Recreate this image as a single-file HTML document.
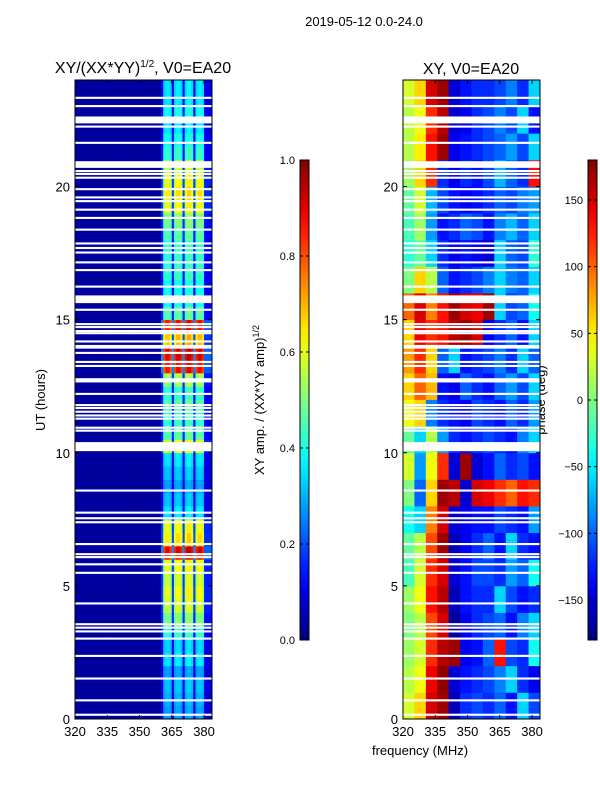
<!DOCTYPE html>
<html><head><meta charset="utf-8"><style>
body{margin:0;background:#fff}
svg{display:block;font-family:"Liberation Sans",sans-serif}
</style></head><body>
<svg id="chart" width="600" height="800" viewBox="0 0 600 800">
<text x="364" y="26" font-size="13" text-anchor="middle">2019-05-12 0.0-24.0</text>
<text x="143" y="73" font-size="16" text-anchor="middle">XY/(XX*YY)<tspan font-size="10" dy="-6">1/2</tspan><tspan dy="6">, V0=EA20</tspan></text>
<text x="471" y="74" font-size="16" text-anchor="middle">XY, V0=EA20</text>
<text x="420" y="755" font-size="13" text-anchor="middle">frequency (MHz)</text>
<text transform="translate(45,400) rotate(-90)" font-size="13" text-anchor="middle">UT (hours)</text>
<text transform="translate(264,400) rotate(-90)" font-size="13" text-anchor="middle">XY amp. / (XX*YY amp)<tspan font-size="9" dy="-5">1/2</tspan></text>
<text transform="translate(545,400) rotate(-90)" font-size="13" text-anchor="middle">phase (deg)</text>
<g id="left"></g>
<g id="right"></g>
<g id="axes"></g>
</svg>
<script>
// ---- data ----
const freqDomain = [320, 383.7];
const timeDomain = [0, 24];
const xTicks = [320, 335, 350, 365, 380];
const yTicks = [0, 5, 10, 15, 20];
const ampTicks = [0.0, 0.2, 0.4, 0.6, 0.8, 1.0];
const phaseTicks = [-150, -100, -50, 0, 50, 100, 150];
const ampFloor = 0.03;
// amplitude column profile, 1 MHz bins from 320
const ampCol = [0,0,0,0,0,0,0,0,0,0, 0,0,0,0,0,0,0,0,0,0, 0,0,0,0,0,0,0,0,0,0, 0,0,0,0,0,0,0,0,0,0,
  0.1,0.33,0.36,0.36,0.33,0.1,0.34,0.37,0.37,0.34, 0.1,0.35,0.38,0.38,0.35,0.1,0.34,0.37,0.37,0.34, 0.08,0.08,0.08,0.08];
// amplitude row profile, 0.5 h bins from 0
const ampRow = [0.7,0.75,0.8,0.7,0.9,0.85, 1.1,1.3,1.5,1.6, 1.5,1.6,2.4,1.7,1.6, 0.9,0.8,0.7,0.8,0.9,
  1.6,1.2,1.1,1.2, 1.1,1.4,2.3,2.4,1.8,2.3, 1.2,1.0, 1.0,1.1,1.1,1.1,1.2,1.3, 1.6,1.7,1.6,1.5, 1.1,1.0,0.9,1.0,0.9,0.9];
// phase grid: 24 hourly rows (hour 0 first) x 12 frequency columns
const phaseGrid = [
 [30,60,150,170,-160,-120,-110,-120,-100,-130,-60,-110],
 [20,40,140,175,-150,-130,-120,-110,-90,-60,-120,-140],
 [10,30,120,160,170,-140,-130,-100,130,-110,-120,-40],
 [0,20,110,150,-170,-140,-120,-110,-100,-130,-90,-60],
 [10,40,130,160,-160,-130,-120,-120,-60,-110,-130,-120],
 [-20,30,120,150,-150,-130,-110,-110,-120,-80,-100,-40],
 [-10,20,110,170,-160,-140,-120,-100,-130,-60,-120,-130],
 [-40,-60,90,150,-150,-140,-130,-130,-110,-120,-130,-80],
 [0,-100,60,170,160,-150,150,140,120,100,130,120],
 [30,-80,40,120,-150,170,-150,-130,-100,-120,-110,-130],
 [-10,-60,20,-80,-120,-130,-120,-110,-120,-130,-90,-60],
 [40,60,-90,-120,-130,-140,-110,-120,-130,-100,-120,-80],
 [60,100,70,-130,-140,-100,-120,-130,-100,-80,-110,-60],
 [80,120,60,-100,-60,-130,-120,-110,-90,-120,-60,-100],
 [60,140,120,130,160,170,150,-140,-120,-100,-130,-60],
 [100,150,90,130,170,150,140,170,-60,-110,-100,-40],
 [0,60,20,-100,-130,-120,-110,-90,-60,-90,-100,-60],
 [-30,-10,-60,-120,-140,-130,-140,-150,-60,-100,-110,-30],
 [-20,10,-80,-130,-120,-100,-110,-130,-90,-70,-100,-60],
 [-10,30,-70,-110,-130,-140,-130,-120,-100,-110,-90,-80],
 [10,60,120,-120,-140,-120,-130,-110,-70,-100,-120,130],
 [20,50,130,170,-140,-130,-120,-110,-100,-80,-110,-60],
 [20,40,120,160,-150,-140,-120,-110,-90,-110,-60,-130],
 [30,60,150,170,-150,-130,-120,-120,-110,-90,-120,-60]];
// flagged (blank) time intervals, hours
const blanks = [[23.29,23.37],[22.98,23.06],[22.37,22.63],[22.21,22.29],[21.6,21.68],[20.7,20.95],[20.54,20.62],
 [20.43,20.51],[20.29,20.37],[19.86,19.94],[19.55,19.63],[19.41,19.49],[19.09,19.17],[18.78,18.86],[18.34,18.42],
 [17.82,17.9],[17.65,17.73],[17.48,17.56],[17.11,17.19],[16.82,16.9],[16.2,16.28],[15.62,15.91],[15.33,15.41],
 [14.79,14.87],[14.68,14.76],[14.53,14.61],[14.45,14.53],[14.14,14.22],[13.97,14.05],[13.91,13.99],[13.71,13.79],
 [13.37,13.45],[13.22,13.3],[12.64,12.8],[12.17,12.25],[11.75,11.83],[11.64,11.72],[11.5,11.58],[11.36,11.44],
 [11.24,11.32],[10.9,10.98],[10.79,10.87],[10.06,10.4],[8.54,8.62],[7.71,7.79],[7.5,7.58],[7.35,7.43],[6.53,6.61],
 [6.15,6.23],[6.04,6.12],[5.77,5.85],[5.45,5.53],[4.3,4.38],[3.52,3.6],[3.39,3.47],[3.25,3.33],[2.98,3.06],
 [2.33,2.41],[1.48,1.56],[0.66,0.74],[0.12,0.2]];

// ---- rendering ----
const NS = 'http://www.w3.org/2000/svg';
const panelY = [80, 719];
const leftX = [75, 212], rightX = [403, 540];
const cb1 = [300, 309], cb2 = [588, 597], cbY = [160, 640];
function yScale(h){ return panelY[1] - (h - timeDomain[0]) / (timeDomain[1] - timeDomain[0]) * (panelY[1] - panelY[0]); }
function xScale(f, px){ return px[0] + (f - freqDomain[0]) / (freqDomain[1] - freqDomain[0]) * (px[1] - px[0]); }
function cl(v){ return Math.max(0, Math.min(1, v)); }
function jet(v){ v = cl(v);
  const r = cl(1.5 - Math.abs(4*v - 3)), g = cl(1.5 - Math.abs(4*v - 2)), b = cl(1.5 - Math.abs(4*v - 1));
  return 'rgb(' + Math.round(r*255) + ',' + Math.round(g*255) + ',' + Math.round(b*255) + ')'; }
function mk(tag, attrs, parent){ const e = document.createElementNS(NS, tag);
  for (const k in attrs) e.setAttribute(k, attrs[k]); parent.appendChild(e); return e; }

const L = document.getElementById('left'), R = document.getElementById('right'), A = document.getElementById('axes');
// amplitude cells
const rowH = (timeDomain[1] - timeDomain[0]) / ampRow.length;
for (let r = 0; r < ampRow.length; r++) {
  for (let c = 0; c < ampCol.length; c++) {
    const f0 = freqDomain[0] + c, f1 = Math.min(freqDomain[0] + c + 1, freqDomain[1]);
    if (f0 >= freqDomain[1]) continue;
    const x0 = xScale(f0, leftX), x1 = xScale(f1, leftX);
    const y0 = yScale(r*rowH + rowH), y1 = yScale(r*rowH);
    const el = mk('rect', {x: x0, y: y0, width: x1 - x0 + 0.4, height: y1 - y0 + 0.4, fill: jet(ampFloor + ampCol[c]*ampRow[r])}, L);
    
    
  }
}
// phase cells
const pRowH = (timeDomain[1] - timeDomain[0]) / phaseGrid.length;
const pColW = (freqDomain[1] - freqDomain[0]) / phaseGrid[0].length;
for (let r = 0; r < phaseGrid.length; r++) {
  for (let c = 0; c < phaseGrid[r].length; c++) {
    const x0 = xScale(freqDomain[0] + c*pColW, rightX), x1 = xScale(freqDomain[0] + (c+1)*pColW, rightX);
    const y0 = yScale((r+1)*pRowH), y1 = yScale(r*pRowH);
    const el = mk('rect', {x: x0, y: y0, width: x1 - x0 + 0.4, height: y1 - y0 + 0.4, fill: jet((phaseGrid[r][c] + 180)/360)}, R);
    
    
  }
}
// blanks
for (const px of [leftX, rightX]) {
  for (const b of blanks) {
    const el = mk('rect', {x: px[0], y: yScale(b[1]), width: px[1] - px[0], height: Math.max(1.5, yScale(b[0]) - yScale(b[1])), fill: '#fff'}, A);
    
    
  }
}
// frames & ticks
for (const px of [leftX, rightX]) {
  const fr = mk('rect', {x: px[0], y: panelY[0], width: px[1] - px[0], height: panelY[1] - panelY[0], fill: 'none', stroke: '#000', 'stroke-width': 1}, A);
  
  
  for (const t of xTicks) {
    const x = xScale(t, px);
    mk('line', {x1: x, x2: x, y1: panelY[1], y2: panelY[1] - 4, stroke: '#000'}, A);
    mk('line', {x1: x, x2: x, y1: panelY[0], y2: panelY[0] + 4, stroke: '#000'}, A);
    const tx = mk('text', {x: x, y: panelY[1] + 17, 'font-size': 13, 'text-anchor': 'middle'}, A);
    tx.textContent = t;
    
    
  }
  for (const t of yTicks) {
    const y = yScale(t);
    mk('line', {x1: px[0], x2: px[0] + 4, y1: y, y2: y, stroke: '#000'}, A);
    mk('line', {x1: px[1], x2: px[1] - 4, y1: y, y2: y, stroke: '#000'}, A);
    const tx = mk('text', {x: px[0] - 5, y: y + 5, 'font-size': 13, 'text-anchor': 'end'}, A);
    tx.textContent = t;
    
    
  }
}
// colorbars
const defs = mk('defs', {}, A);
const grad = mk('linearGradient', {id: 'jetg', x1: 0, y1: 1, x2: 0, y2: 0}, defs);
for (let i = 0; i <= 20; i++) mk('stop', {offset: i/20, 'stop-color': jet(i/20)}, grad);
function colorbar(cx, ticks, lo, hi, name){
  const r = mk('rect', {x: cx[0], y: cbY[0], width: cx[1] - cx[0], height: cbY[1] - cbY[0], fill: 'url(#jetg)', stroke: '#000'}, A);
  
  
  for (const t of ticks) {
    const y = cbY[1] - (t - lo)/(hi - lo)*(cbY[1] - cbY[0]);
    mk('line', {x1: cx[0], x2: cx[0] + 3, y1: y, y2: y, stroke: '#000'}, A);
    mk('line', {x1: cx[1], x2: cx[1] - 3, y1: y, y2: y, stroke: '#000'}, A);
    const tx = mk('text', {x: cx[0] - 5, y: y + 4, 'font-size': 11, 'text-anchor': 'end'}, A);
    tx.textContent = (hi <= 1 ? t.toFixed(1) : (t < 0 ? '\u2212' + (-t) : t));
    
    
  }
}
colorbar(cb1, ampTicks, 0, 1, 'amp-colorbar');
colorbar(cb2, phaseTicks, -180, 180, 'phase-colorbar');
</script>
</body></html>
